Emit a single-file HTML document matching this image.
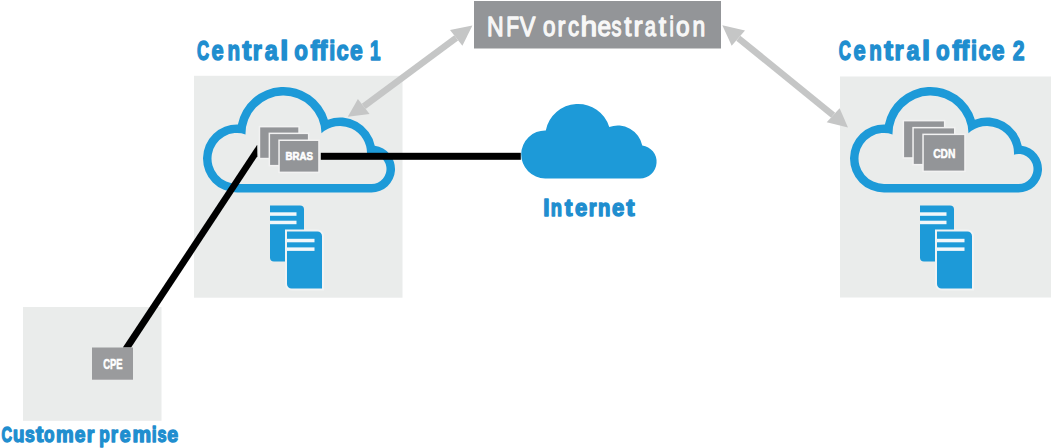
<!DOCTYPE html>
<html><head><meta charset="utf-8"><style>
html,body{margin:0;padding:0;background:#fff;width:1051px;height:448px;overflow:hidden}
svg{display:block}
text{font-family:"Liberation Sans",sans-serif}
</style></head><body><svg width="1051" height="448" viewBox="0 0 1051 448" font-family="Liberation Sans, sans-serif"><rect width="1051" height="448" fill="#fff"/><rect x="194" y="75.8" width="208.5" height="221.9" fill="#eaeceb"/><rect x="840" y="76.5" width="211" height="221" fill="#eaeceb"/><rect x="23" y="307" width="138.5" height="113.8" fill="#eaeceb"/><rect x="474" y="1" width="247" height="47.5" fill="#939598"/><line x1="456.2" y1="37.85" x2="363.75" y2="106.45" stroke="#c5c6c6" stroke-width="6.5"/><polygon fill="#c5c6c6" points="472.4,25.6 450,30 462.4,45.7"/><polygon fill="#c5c6c6" points="347.8,116.8 357.9,98.9 369.6,114"/><line x1="738.35" y1="38.150000000000006" x2="833.1500000000001" y2="115.25" stroke="#c5c6c6" stroke-width="6.5"/><polygon fill="#c5c6c6" points="722.3,25.3 745,30.6 731.7,45.7"/><polygon fill="#c5c6c6" points="848,127.4 839.6,108.2 826.7,122.3"/><path fill="#1d9ad8" d="M237.000,192.500 A34.000,34.000 0 1 1 237.877,124.511 A46.500,46.500 0 0 1 327.884,119.632 A35.500,35.500 0 0 1 374.747,145.725 A23.500,23.500 0 0 1 371.500,192.500 Z"/><path fill="#eaeceb" d="M237.000,184.000 A25.500,25.500 0 1 1 245.512,134.463 A38.000,38.000 0 1 1 321.500,133.334 A27.000,27.000 0 0 1 366.946,154.708 A15.000,15.000 0 1 1 371.500,184.000 Z"/><path fill="#1d9ad8" d="M884.000,192.500 A34.000,34.000 0 1 1 884.877,124.511 A46.500,46.500 0 0 1 974.884,119.632 A35.500,35.500 0 0 1 1021.747,145.725 A23.500,23.500 0 0 1 1018.500,192.500 Z"/><path fill="#eaeceb" d="M884.000,184.000 A25.500,25.500 0 1 1 892.512,134.463 A38.000,38.000 0 1 1 968.500,133.334 A27.000,27.000 0 0 1 1013.946,154.708 A15.000,15.000 0 1 1 1018.500,184.000 Z"/><path fill="#1d9ad8" d="M545.175,178.377 A23.970,23.970 0 1 1 545.793,130.445 A32.782,32.782 0 0 1 609.248,127.005 A25.027,25.027 0 0 1 642.286,145.401 A16.567,16.567 0 0 1 639.997,178.377 Z"/><rect x="258.70" y="125.90" width="41.10" height="33.40" fill="#f2f2f2"/><rect x="260.20" y="127.40" width="38.10" height="30.40" fill="#939598"/><rect x="268.60" y="132.60" width="40.80" height="33.80" fill="#f2f2f2"/><rect x="270.10" y="134.10" width="37.80" height="30.80" fill="#939598"/><rect x="278.30" y="139.50" width="41.40" height="33.60" fill="#f2f2f2"/><rect x="279.80" y="141.00" width="38.40" height="30.60" fill="#939598"/><rect x="902.60" y="119.90" width="42.80" height="38.80" fill="#f2f2f2"/><rect x="904.10" y="121.40" width="39.80" height="35.80" fill="#939598"/><rect x="912.30" y="126.90" width="43.20" height="38.50" fill="#f2f2f2"/><rect x="913.80" y="128.40" width="40.20" height="35.50" fill="#939598"/><rect x="922.30" y="133.60" width="43.40" height="38.50" fill="#f2f2f2"/><rect x="923.80" y="135.10" width="40.40" height="35.50" fill="#939598"/><path fill="#1d9ad8" d="M270,205.5 H300 A4,4 0 0 1 304,209.5 V261.5 H274 A4,4 0 0 1 270,257.5 Z"/><rect x="270" y="212.3" width="26.5" height="3.5" fill="#f2f7fa"/><rect x="270" y="220.7" width="26.5" height="3.5" fill="#f2f7fa"/><path fill="#f1f3f4" d="M285,229.5 H317.5 A6.5,6.5 0 0 1 324,236.0 V290.5 H291.5 A6.5,6.5 0 0 1 285,284.0 Z"/><path fill="#1d9ad8" d="M287,231.5 H317.5 A4.5,4.5 0 0 1 322,236.0 V288.5 H291.5 A4.5,4.5 0 0 1 287,284.0 Z"/><rect x="287" y="238.8" width="27.5" height="3.5" fill="#f2f7fa"/><rect x="287" y="247.4" width="27.5" height="3.5" fill="#f2f7fa"/><path fill="#1d9ad8" d="M920,205.5 H950 A4,4 0 0 1 954,209.5 V261.5 H924 A4,4 0 0 1 920,257.5 Z"/><rect x="920" y="212.3" width="26.5" height="3.5" fill="#f2f7fa"/><rect x="920" y="220.7" width="26.5" height="3.5" fill="#f2f7fa"/><path fill="#f1f3f4" d="M935,229.5 H967.5 A6.5,6.5 0 0 1 974,236.0 V290.5 H941.5 A6.5,6.5 0 0 1 935,284.0 Z"/><path fill="#1d9ad8" d="M937,231.5 H967.5 A4.5,4.5 0 0 1 972,236.0 V288.5 H941.5 A4.5,4.5 0 0 1 937,284.0 Z"/><rect x="937" y="238.8" width="27.5" height="3.5" fill="#f2f7fa"/><rect x="937" y="247.4" width="27.5" height="3.5" fill="#f2f7fa"/><rect x="320.8" y="152.8" width="200" height="7" fill="#000"/><polygon fill="#000" points="257.2,144.8 257.4,156.2 131.1,347.6 122.8,347.6"/><rect x="92" y="347.5" width="41" height="32.2" fill="#9a9b9d"/><g><text x="196.90" y="59.75" textLength="12.13" lengthAdjust="spacingAndGlyphs" font-size="27.62" font-weight="bold" fill="#1f8ecf" stroke="#1f8ecf" stroke-width="1.5" stroke-linejoin="round">C</text><text x="838.70" y="59.75" textLength="12.13" lengthAdjust="spacingAndGlyphs" font-size="27.62" font-weight="bold" fill="#1f8ecf" stroke="#1f8ecf" stroke-width="1.5" stroke-linejoin="round">C</text><text x="211.60" y="59.75" textLength="12.13" lengthAdjust="spacingAndGlyphs" font-size="27.62" font-weight="bold" fill="#1f8ecf" stroke="#1f8ecf" stroke-width="1.5" stroke-linejoin="round">e</text><text x="853.40" y="59.75" textLength="12.13" lengthAdjust="spacingAndGlyphs" font-size="27.62" font-weight="bold" fill="#1f8ecf" stroke="#1f8ecf" stroke-width="1.5" stroke-linejoin="round">e</text><text x="227.50" y="59.75" textLength="12.58" lengthAdjust="spacingAndGlyphs" font-size="27.62" font-weight="bold" fill="#1f8ecf" stroke="#1f8ecf" stroke-width="1.5" stroke-linejoin="round">n</text><text x="869.30" y="59.75" textLength="12.58" lengthAdjust="spacingAndGlyphs" font-size="27.62" font-weight="bold" fill="#1f8ecf" stroke="#1f8ecf" stroke-width="1.5" stroke-linejoin="round">n</text><text x="242.30" y="59.75" textLength="9.15" lengthAdjust="spacingAndGlyphs" font-size="27.62" font-weight="bold" fill="#1f8ecf" stroke="#1f8ecf" stroke-width="1.5" stroke-linejoin="round">t</text><text x="884.10" y="59.75" textLength="9.15" lengthAdjust="spacingAndGlyphs" font-size="27.62" font-weight="bold" fill="#1f8ecf" stroke="#1f8ecf" stroke-width="1.5" stroke-linejoin="round">t</text><text x="252.80" y="59.75" textLength="9.08" lengthAdjust="spacingAndGlyphs" font-size="27.62" font-weight="bold" fill="#1f8ecf" stroke="#1f8ecf" stroke-width="1.5" stroke-linejoin="round">r</text><text x="894.60" y="59.75" textLength="9.08" lengthAdjust="spacingAndGlyphs" font-size="27.62" font-weight="bold" fill="#1f8ecf" stroke="#1f8ecf" stroke-width="1.5" stroke-linejoin="round">r</text><text x="264.70" y="59.75" textLength="13.0" lengthAdjust="spacingAndGlyphs" font-size="27.62" font-weight="bold" fill="#1f8ecf" stroke="#1f8ecf" stroke-width="1.5" stroke-linejoin="round">a</text><text x="906.50" y="59.75" textLength="13.0" lengthAdjust="spacingAndGlyphs" font-size="27.62" font-weight="bold" fill="#1f8ecf" stroke="#1f8ecf" stroke-width="1.5" stroke-linejoin="round">a</text><text x="280.30" y="59.75" textLength="8.0" lengthAdjust="spacingAndGlyphs" font-size="27.62" font-weight="bold" fill="#1f8ecf" stroke="#1f8ecf" stroke-width="1.5" stroke-linejoin="round">l</text><text x="922.10" y="59.75" textLength="8.0" lengthAdjust="spacingAndGlyphs" font-size="27.62" font-weight="bold" fill="#1f8ecf" stroke="#1f8ecf" stroke-width="1.5" stroke-linejoin="round">l</text><text x="294.20" y="59.75" textLength="13.62" lengthAdjust="spacingAndGlyphs" font-size="27.62" font-weight="bold" fill="#1f8ecf" stroke="#1f8ecf" stroke-width="1.5" stroke-linejoin="round">o</text><text x="936.00" y="59.75" textLength="13.62" lengthAdjust="spacingAndGlyphs" font-size="27.62" font-weight="bold" fill="#1f8ecf" stroke="#1f8ecf" stroke-width="1.5" stroke-linejoin="round">o</text><text x="310.50" y="59.75" textLength="8.72" lengthAdjust="spacingAndGlyphs" font-size="27.62" font-weight="bold" fill="#1f8ecf" stroke="#1f8ecf" stroke-width="1.5" stroke-linejoin="round">f</text><text x="952.30" y="59.75" textLength="8.72" lengthAdjust="spacingAndGlyphs" font-size="27.62" font-weight="bold" fill="#1f8ecf" stroke="#1f8ecf" stroke-width="1.5" stroke-linejoin="round">f</text><text x="319.30" y="59.75" textLength="8.12" lengthAdjust="spacingAndGlyphs" font-size="27.62" font-weight="bold" fill="#1f8ecf" stroke="#1f8ecf" stroke-width="1.5" stroke-linejoin="round">f</text><text x="961.10" y="59.75" textLength="8.12" lengthAdjust="spacingAndGlyphs" font-size="27.62" font-weight="bold" fill="#1f8ecf" stroke="#1f8ecf" stroke-width="1.5" stroke-linejoin="round">f</text><text x="329.20" y="59.75" textLength="6.0" lengthAdjust="spacingAndGlyphs" font-size="27.62" font-weight="bold" fill="#1f8ecf" stroke="#1f8ecf" stroke-width="1.5" stroke-linejoin="round">i</text><text x="971.00" y="59.75" textLength="6.0" lengthAdjust="spacingAndGlyphs" font-size="27.62" font-weight="bold" fill="#1f8ecf" stroke="#1f8ecf" stroke-width="1.5" stroke-linejoin="round">i</text><text x="336.60" y="59.75" textLength="12.13" lengthAdjust="spacingAndGlyphs" font-size="27.62" font-weight="bold" fill="#1f8ecf" stroke="#1f8ecf" stroke-width="1.5" stroke-linejoin="round">c</text><text x="978.40" y="59.75" textLength="12.13" lengthAdjust="spacingAndGlyphs" font-size="27.62" font-weight="bold" fill="#1f8ecf" stroke="#1f8ecf" stroke-width="1.5" stroke-linejoin="round">c</text><text x="350.00" y="59.75" textLength="12.72" lengthAdjust="spacingAndGlyphs" font-size="27.62" font-weight="bold" fill="#1f8ecf" stroke="#1f8ecf" stroke-width="1.5" stroke-linejoin="round">e</text><text x="991.80" y="59.75" textLength="12.72" lengthAdjust="spacingAndGlyphs" font-size="27.62" font-weight="bold" fill="#1f8ecf" stroke="#1f8ecf" stroke-width="1.5" stroke-linejoin="round">e</text><text x="370.00" y="59.75" textLength="10.48" lengthAdjust="spacingAndGlyphs" font-size="27.62" font-weight="bold" fill="#1f8ecf" stroke="#1f8ecf" stroke-width="1.5" stroke-linejoin="round">1</text><text x="543.20" y="215.75" textLength="6.27" lengthAdjust="spacingAndGlyphs" font-size="24.42" font-weight="bold" fill="#1f8ecf" stroke="#1f8ecf" stroke-width="1.5" stroke-linejoin="round">I</text><text x="550.70" y="215.75" textLength="11.27" lengthAdjust="spacingAndGlyphs" font-size="24.42" font-weight="bold" fill="#1f8ecf" stroke="#1f8ecf" stroke-width="1.5" stroke-linejoin="round">n</text><text x="564.80" y="215.75" textLength="7.73" lengthAdjust="spacingAndGlyphs" font-size="24.42" font-weight="bold" fill="#1f8ecf" stroke="#1f8ecf" stroke-width="1.5" stroke-linejoin="round">t</text><text x="574.90" y="215.75" textLength="12.29" lengthAdjust="spacingAndGlyphs" font-size="24.42" font-weight="bold" fill="#1f8ecf" stroke="#1f8ecf" stroke-width="1.5" stroke-linejoin="round">e</text><text x="588.80" y="215.75" textLength="7.78" lengthAdjust="spacingAndGlyphs" font-size="24.42" font-weight="bold" fill="#1f8ecf" stroke="#1f8ecf" stroke-width="1.5" stroke-linejoin="round">r</text><text x="598.10" y="215.75" textLength="12.4" lengthAdjust="spacingAndGlyphs" font-size="24.42" font-weight="bold" fill="#1f8ecf" stroke="#1f8ecf" stroke-width="1.5" stroke-linejoin="round">n</text><text x="611.90" y="215.75" textLength="12.29" lengthAdjust="spacingAndGlyphs" font-size="24.42" font-weight="bold" fill="#1f8ecf" stroke="#1f8ecf" stroke-width="1.5" stroke-linejoin="round">e</text><text x="626.20" y="215.75" textLength="8.34" lengthAdjust="spacingAndGlyphs" font-size="24.42" font-weight="bold" fill="#1f8ecf" stroke="#1f8ecf" stroke-width="1.5" stroke-linejoin="round">t</text><text x="1.40" y="441.8" textLength="10.54" lengthAdjust="spacingAndGlyphs" font-size="21.22" font-weight="bold" fill="#1f8ecf" stroke="#1f8ecf" stroke-width="1.4" stroke-linejoin="round">C</text><text x="13.00" y="441.8" textLength="11.43" lengthAdjust="spacingAndGlyphs" font-size="21.22" font-weight="bold" fill="#1f8ecf" stroke="#1f8ecf" stroke-width="1.4" stroke-linejoin="round">u</text><text x="24.90" y="441.8" textLength="9.81" lengthAdjust="spacingAndGlyphs" font-size="21.22" font-weight="bold" fill="#1f8ecf" stroke="#1f8ecf" stroke-width="1.4" stroke-linejoin="round">s</text><text x="35.80" y="441.8" textLength="7.69" lengthAdjust="spacingAndGlyphs" font-size="21.22" font-weight="bold" fill="#1f8ecf" stroke="#1f8ecf" stroke-width="1.4" stroke-linejoin="round">t</text><text x="44.10" y="441.8" textLength="10.49" lengthAdjust="spacingAndGlyphs" font-size="21.22" font-weight="bold" fill="#1f8ecf" stroke="#1f8ecf" stroke-width="1.4" stroke-linejoin="round">o</text><text x="56.10" y="441.8" textLength="17.7" lengthAdjust="spacingAndGlyphs" font-size="21.22" font-weight="bold" fill="#1f8ecf" stroke="#1f8ecf" stroke-width="1.4" stroke-linejoin="round">m</text><text x="74.70" y="441.8" textLength="10.67" lengthAdjust="spacingAndGlyphs" font-size="21.22" font-weight="bold" fill="#1f8ecf" stroke="#1f8ecf" stroke-width="1.4" stroke-linejoin="round">e</text><text x="86.80" y="441.8" textLength="7.61" lengthAdjust="spacingAndGlyphs" font-size="21.22" font-weight="bold" fill="#1f8ecf" stroke="#1f8ecf" stroke-width="1.4" stroke-linejoin="round">r</text><text x="99.20" y="441.8" textLength="10.46" lengthAdjust="spacingAndGlyphs" font-size="21.22" font-weight="bold" fill="#1f8ecf" stroke="#1f8ecf" stroke-width="1.4" stroke-linejoin="round">p</text><text x="110.80" y="441.8" textLength="7.22" lengthAdjust="spacingAndGlyphs" font-size="21.22" font-weight="bold" fill="#1f8ecf" stroke="#1f8ecf" stroke-width="1.4" stroke-linejoin="round">r</text><text x="119.80" y="441.8" textLength="10.84" lengthAdjust="spacingAndGlyphs" font-size="21.22" font-weight="bold" fill="#1f8ecf" stroke="#1f8ecf" stroke-width="1.4" stroke-linejoin="round">e</text><text x="132.50" y="441.8" textLength="18.58" lengthAdjust="spacingAndGlyphs" font-size="21.22" font-weight="bold" fill="#1f8ecf" stroke="#1f8ecf" stroke-width="1.4" stroke-linejoin="round">m</text><text x="151.70" y="441.8" textLength="4.92" lengthAdjust="spacingAndGlyphs" font-size="21.22" font-weight="bold" fill="#1f8ecf" stroke="#1f8ecf" stroke-width="1.4" stroke-linejoin="round">i</text><text x="157.50" y="441.8" textLength="9.08" lengthAdjust="spacingAndGlyphs" font-size="21.22" font-weight="bold" fill="#1f8ecf" stroke="#1f8ecf" stroke-width="1.4" stroke-linejoin="round">s</text><text x="167.20" y="441.8" textLength="10.86" lengthAdjust="spacingAndGlyphs" font-size="21.22" font-weight="bold" fill="#1f8ecf" stroke="#1f8ecf" stroke-width="1.4" stroke-linejoin="round">e</text><text x="487.00" y="35.55" textLength="16.67" lengthAdjust="spacingAndGlyphs" font-size="28.34" font-weight="normal" fill="#f7f7f7" stroke="#f7f7f7" stroke-width="1.3" stroke-linejoin="round">N</text><text x="506.20" y="35.55" textLength="12.83" lengthAdjust="spacingAndGlyphs" font-size="28.34" font-weight="normal" fill="#f7f7f7" stroke="#f7f7f7" stroke-width="1.3" stroke-linejoin="round">F</text><text x="519.70" y="35.55" textLength="15.65" lengthAdjust="spacingAndGlyphs" font-size="28.34" font-weight="normal" fill="#f7f7f7" stroke="#f7f7f7" stroke-width="1.3" stroke-linejoin="round">V</text><text x="543.00" y="35.55" textLength="12.53" lengthAdjust="spacingAndGlyphs" font-size="28.34" font-weight="normal" fill="#f7f7f7" stroke="#f7f7f7" stroke-width="1.3" stroke-linejoin="round">o</text><text x="557.60" y="35.55" textLength="7.85" lengthAdjust="spacingAndGlyphs" font-size="28.34" font-weight="normal" fill="#f7f7f7" stroke="#f7f7f7" stroke-width="1.3" stroke-linejoin="round">r</text><text x="568.00" y="35.55" textLength="11.05" lengthAdjust="spacingAndGlyphs" font-size="28.34" font-weight="normal" fill="#f7f7f7" stroke="#f7f7f7" stroke-width="1.3" stroke-linejoin="round">c</text><text x="580.50" y="35.55" textLength="16.67" lengthAdjust="spacingAndGlyphs" font-size="28.34" font-weight="normal" fill="#f7f7f7" stroke="#f7f7f7" stroke-width="1.3" stroke-linejoin="round">h</text><text x="597.40" y="35.55" textLength="13.53" lengthAdjust="spacingAndGlyphs" font-size="28.34" font-weight="normal" fill="#f7f7f7" stroke="#f7f7f7" stroke-width="1.3" stroke-linejoin="round">e</text><text x="611.50" y="35.55" textLength="9.95" lengthAdjust="spacingAndGlyphs" font-size="28.34" font-weight="normal" fill="#f7f7f7" stroke="#f7f7f7" stroke-width="1.3" stroke-linejoin="round">s</text><text x="624.30" y="35.55" textLength="7.2" lengthAdjust="spacingAndGlyphs" font-size="28.34" font-weight="normal" fill="#f7f7f7" stroke="#f7f7f7" stroke-width="1.3" stroke-linejoin="round">t</text><text x="633.60" y="35.55" textLength="9.08" lengthAdjust="spacingAndGlyphs" font-size="28.34" font-weight="normal" fill="#f7f7f7" stroke="#f7f7f7" stroke-width="1.3" stroke-linejoin="round">r</text><text x="644.70" y="35.55" textLength="11.22" lengthAdjust="spacingAndGlyphs" font-size="28.34" font-weight="normal" fill="#f7f7f7" stroke="#f7f7f7" stroke-width="1.3" stroke-linejoin="round">a</text><text x="658.80" y="35.55" textLength="7.37" lengthAdjust="spacingAndGlyphs" font-size="28.34" font-weight="normal" fill="#f7f7f7" stroke="#f7f7f7" stroke-width="1.3" stroke-linejoin="round">t</text><text x="669.60" y="35.55" textLength="4.36" lengthAdjust="spacingAndGlyphs" font-size="28.34" font-weight="normal" fill="#f7f7f7" stroke="#f7f7f7" stroke-width="1.3" stroke-linejoin="round">i</text><text x="676.00" y="35.55" textLength="13.62" lengthAdjust="spacingAndGlyphs" font-size="28.34" font-weight="normal" fill="#f7f7f7" stroke="#f7f7f7" stroke-width="1.3" stroke-linejoin="round">o</text><text x="692.50" y="35.55" textLength="12.73" lengthAdjust="spacingAndGlyphs" font-size="28.34" font-weight="normal" fill="#f7f7f7" stroke="#f7f7f7" stroke-width="1.3" stroke-linejoin="round">n</text></g><text x="1012.8" y="59.8" textLength="11.81" lengthAdjust="spacingAndGlyphs" font-size="27.76" font-weight="bold" fill="#1f8ecf" stroke="#1f8ecf" stroke-width="1.4" stroke-linejoin="round">2</text><text x="285.6" y="160.3" textLength="27.43" lengthAdjust="spacingAndGlyphs" font-size="11.34" font-weight="bold" fill="#ffffff" stroke="#ffffff" stroke-width="0.6" stroke-linejoin="round">BRAS</text><text x="933.2" y="157.65" textLength="22.28" lengthAdjust="spacingAndGlyphs" font-size="12.65" font-weight="bold" fill="#ffffff" stroke="#ffffff" stroke-width="0.5" stroke-linejoin="round">CDN</text><text x="103.2" y="368.95" textLength="19.4" lengthAdjust="spacingAndGlyphs" font-size="13.81" font-weight="bold" fill="#ffffff" stroke="#ffffff" stroke-width="0.5" stroke-linejoin="round">CPE</text></svg></body></html>
